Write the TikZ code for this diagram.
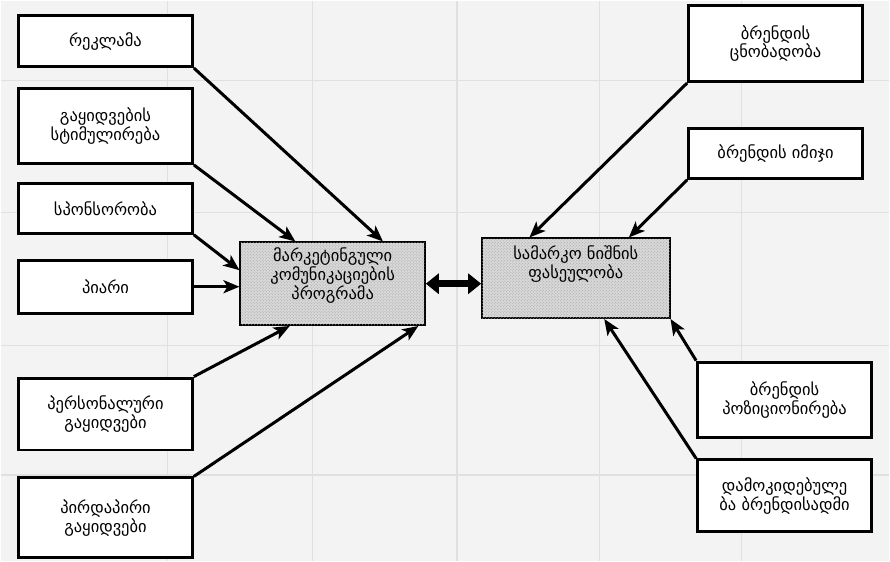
\documentclass[tikz,border=0pt]{standalone}
\usepackage{fontspec}
\newfontfamily\geo{DejaVu Sans}
\usetikzlibrary{arrows.meta,calc,patterns}
\definecolor{paper}{HTML}{F3F3F3}
\definecolor{ghost}{HTML}{E0E0E0}
\definecolor{shade}{HTML}{D8D8D8}
\begin{document}
\begin{tikzpicture}[x=1pt,y=-1pt,
  txt/.style={font=\geo\fontsize{16.5}{19}\selectfont, align=center},
  sidebox/.style={txt, draw=black, line width=3pt, fill=white, rectangle,
    inner sep=0pt, minimum width=174pt},
  corebox/.style={draw=black, line width=1.6pt, fill=shade, rectangle, inner sep=0pt,
    postaction={pattern=crosshatch dots, pattern color=gray!70}},
  feed/.style={line width=3pt, draw=black,
    -{Stealth[length=16pt,width=13pt,inset=4pt]}},
  link/.style={line width=7pt, draw=black,
    {Triangle[length=13pt,width=20pt]}-{Triangle[length=13pt,width=20pt]}},
  gridline/.style={ghost, line width=1.2pt}
]
% paper and the faint ruling behind the scheme
\fill[paper] (0,0) rectangle (890,561);
\foreach \gx in {167,312,457,600,742}
  \draw[gridline] (\gx,0) -- (\gx,561);
\foreach \gy in {80,212,345,475}
  \draw[gridline] (0,\gy) -- (890,\gy);

% communication tools (left column)
\node[sidebox, minimum height=51pt] (rek)  at (105,40.5)  {რეკლამა};
\node[sidebox, minimum height=75pt] (stim) at (105,125.5) {გაყიდვების\\სტიმულირება};
\node[sidebox, minimum height=50pt] (spon) at (105,208)   {სპონსორობა};
\node[sidebox, minimum height=53pt] (piar) at (105,286.5) {პიარი};
\node[sidebox, minimum height=72pt] (pers) at (105,414)   {პერსონალური\\გაყიდვები};
\node[sidebox, minimum height=80pt] (pird) at (105,518)   {პირდაპირი\\გაყიდვები};

% the two central blocks
\node[corebox, minimum width=185pt, minimum height=83pt] (prog) at (332.5,283.5) {};
\node[txt, anchor=north, inner sep=0pt] (progtxt) at ($(prog.north)+(0,6)$)
  {მარკეტინგული\\კომუნიკაციების\\პროგრამა};
\node[corebox, minimum width=188pt, minimum height=80pt] (equity) at (576,278) {};
\node[txt, anchor=north, inner sep=0pt] (equitytxt) at ($(equity.north)+(0,8)$)
  {სამარკო ნიშნის\\ფასეულობა};

% brand components (right column)
\node[sidebox, minimum height=76pt] (cnob)  at (776,43)    {ბრენდის\\ცნობადობა};
\node[sidebox, minimum height=50pt] (imij)  at (776,153)   {ბრენდის იმიჯი};
\node[sidebox, minimum height=75pt] (pozic) at (785,399.5) {ბრენდის\\პოზიციონირება};
\node[sidebox, minimum height=72pt] (damok) at (785,496)   {დამოკიდებულე\\ბა ბრენდისადმი};

% tools feeding the programme
\draw[feed] (rek.south east)  -- ($(prog.north west)!0.77!(prog.north east)$);
\draw[feed] (stim.south east) -- ($(prog.north west)!0.30!(prog.north east)$);
\draw[feed] (spon.south east) -- ($(prog.north west)!0.34!(prog.south west)$);
\draw[feed] (piar.east) -- (piar.east -| prog.west);
\draw[feed] (pers.north east) -- ($(prog.south west)!0.27!(prog.south east)$);
\draw[feed] (pird.north east) -- ($(prog.south west)!0.96!(prog.south east)$);

% programme <-> brand equity
\draw[link] (prog.east) -- (prog.east -| equity.west);

% components feeding brand equity
\draw[feed] (cnob.south west)  -- ($(equity.north west)!0.255!(equity.north east)$);
\draw[feed] (imij.south west)  -- ($(equity.north west)!0.78!(equity.north east)$);
\draw[feed] (pozic.north west) -- (equity.south east);
\draw[feed] (damok.north west) -- ($(equity.south west)!0.65!(equity.south east)$);
\end{tikzpicture}
\end{document}
